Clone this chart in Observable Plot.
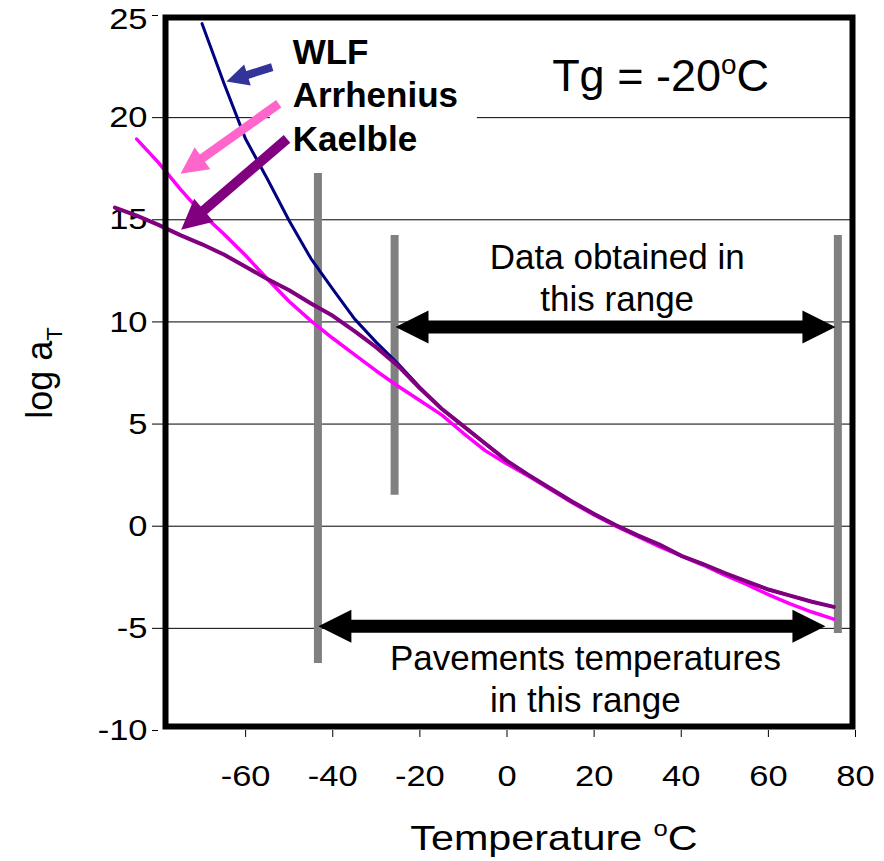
<!DOCTYPE html>
<html>
<head>
<meta charset="utf-8">
<script src="https://cdn.jsdelivr.net/npm/d3@7"></script>
<script src="https://cdn.jsdelivr.net/npm/@observablehq/plot@0.6"></script>
<style>
  html, body { margin: 0; padding: 0; background: #fff; }
  #chart svg { display: block; }
</style>
</head>
<body>
<div id="chart"></div>
<script>
// ---------- data ----------
const temperatureTicks = [-60, -40, -20, 0, 20, 40, 60, 80];
const logTicks = [-10, -5, 0, 5, 10, 15, 20, 25];

const wlfTemp = [-70,-65,-60,-55,-50,-45,-40,-35,-30,-25,-20,-15,-10,-5,0,5,10,15,20,25,30,35,40,45,50,55,60,65,70,75];
const wlfLogAT = [24.6,21.7,18.95,17.0,14.95,13.1,11.6,10.15,9.0,7.95,6.8,5.75,4.9,4.05,3.2,2.5,1.85,1.2,0.6,0.05,-0.45,-0.9,-1.45,-1.85,-2.3,-2.7,-3.1,-3.4,-3.7,-3.95];

const arrheniusTemp = [-85,-80,-75,-70,-65,-60,-55,-50,-45,-40,-35,-30,-25,-20,-15,-10,-5,0,5,10,15,20,25,30,35,40,45,50,55,60,65,70,75];
const arrheniusLogAT = [18.95,17.8,16.5,15.3,14.3,13.25,12.1,11.0,10.05,9.2,8.4,7.6,6.85,6.15,5.45,4.55,3.7,3.05,2.45,1.8,1.15,0.55,0.0,-0.5,-1.0,-1.45,-1.9,-2.4,-2.85,-3.35,-3.8,-4.2,-4.55];

const kaelbleTemp = [-90,-85,-80,-75,-70,-65,-60,-55,-50,-45,-40,-35,-30,-25,-20,-15,-10,-5,0,5,10,15,20,25,30,35,40,45,50,55,60,65,70,75];
const kaelbleLogAT = [15.6,15.2,14.75,14.25,13.8,13.3,12.7,12.1,11.55,10.9,10.3,9.55,8.75,7.85,6.75,5.75,4.9,4.05,3.2,2.5,1.85,1.2,0.6,0.05,-0.45,-0.9,-1.45,-1.85,-2.3,-2.7,-3.1,-3.4,-3.7,-3.95];

const seriesNames = ["WLF", "Arrhenius", "Kaelble"];

// annotation anchors (data coordinates)
const gridValues = [20, 15, 10, 5, 0, -5];
const legendGap = [-54.3, -6.8];
const rangeBarX = [-43.4, -25.8, 75.95];
const rangeBarTop = [17.27, 14.23, 14.23];
const rangeBarBottom = [-6.72, 1.51, -5.25];
const rangeArrowY = [9.75, -4.9];
const rangeArrowFrom = [-25.6, -43.3];
const rangeArrowTo = [75.4, 73.1];
const legendArrowTail = [[-53.9, 22.47], [-52.4, 20.68], [-50.5, 18.96]];
const legendArrowTip = [[-64.4, 21.77], [-74.95, 17.25], [-74.8, 14.51]];
const legendLabelX = -49.2;
const legendLabelY = [23.17, 21.05, 18.93];
const notes = ["Data obtained in\nthis range", "Pavements temperatures\nin this range"];
const noteX = [25.3, 18.0];
const noteY = [14.05, -5.6];
const tgLabel = "Tg = -20^oC";
const tgX = 10.36, tgY = 22.02;
const xTitle = "Temperature ^oC";
const yTitle = "log a_T";

// ---------- layout / styles ----------
const W = 884, H = 861, ML = 158, MR = 29, MT = 15, MB = 131;
const FONT = "'Liberation Sans', Arial, Helvetica, sans-serif";
const lineColors = {WLF: "#000080", Arrhenius: "#FF00FF", Kaelble: "#800080"};
const lineWidths = {WLF: 3, Arrhenius: 3.5, Kaelble: 4};
const arrowColors = ["#333399", "#FF66CC", "#800080"];
const arrowShaft = [8, 9, 10];
const arrowHeadLen = [22, 27, 30];
const TICK_STRETCH = 1.15, TITLE_STRETCH = 1.18;

const xs = d3.scaleLinear([-80, 80], [ML, W - MR]);
const ys = d3.scaleLinear([-10, 25], [H - MB, MT]);

const rows = [
  ...wlfTemp.map((t, i) => ({series: "WLF", t, v: wlfLogAT[i]})),
  ...arrheniusTemp.map((t, i) => ({series: "Arrhenius", t, v: arrheniusLogAT[i]})),
  ...kaelbleTemp.map((t, i) => ({series: "Kaelble", t, v: kaelbleLogAT[i]}))
];

const grid = [];
for (const g of gridValues) {
  if (g === 20) {
    grid.push({y: g, x1: -80, x2: legendGap[0]});
    grid.push({y: g, x1: legendGap[1], x2: 80});
  } else grid.push({y: g, x1: -80, x2: 80});
}

const arrowHead = {
  draw(ctx, size) {
    const L = Math.sqrt(size / Math.PI);
    ctx.moveTo(0, 0);
    ctx.lineTo(-L, -L / 2);
    ctx.lineTo(-L, L / 2);
    ctx.closePath();
  }
};

function arrowParts(x1, y1, x2, y2, L) {
  const px1 = xs(x1), py1 = ys(y1), px2 = xs(x2), py2 = ys(y2);
  const dx = px2 - px1, dy = py2 - py1, len = Math.hypot(dx, dy);
  const ux = dx / len, uy = dy / len;
  const ex = px2 - ux * L * 0.9, ey = py2 - uy * L * 0.9;
  return {
    shaft: {x1, y1, x2: xs.invert(ex), y2: ys.invert(ey)},
    head: {x: x2, y: y2, angle: Math.atan2(uy, ux) * 180 / Math.PI}
  };
}

const arrowMarks = [];
legendArrowTail.forEach((tail, i) => {
  const p = arrowParts(tail[0], tail[1], legendArrowTip[i][0], legendArrowTip[i][1], arrowHeadLen[i]);
  arrowMarks.push(Plot.link([p.shaft], {x1: "x1", y1: "y1", x2: "x2", y2: "y2", stroke: arrowColors[i], strokeWidth: arrowShaft[i]}));
  arrowMarks.push(Plot.dot([p.head], {x: "x", y: "y", rotate: "angle", symbol: arrowHead, r: arrowHeadLen[i], fill: arrowColors[i], stroke: "none"}));
});
rangeArrowY.forEach((y, i) => {
  const a = rangeArrowFrom[i], b = rangeArrowTo[i];
  const mid = (a + b) / 2;
  const p1 = arrowParts(mid, y, a, y, 33);
  const p2 = arrowParts(mid, y, b, y, 33);
  arrowMarks.push(Plot.link([{x1: p1.shaft.x2, x2: p2.shaft.x2, y1: y, y2: y}], {x1: "x1", y1: "y1", x2: "x2", y2: "y2", stroke: "black", strokeWidth: 13}));
  arrowMarks.push(Plot.dot([p1.head, p2.head], {x: "x", y: "y", rotate: "angle", symbol: arrowHead, r: 33, fill: "black", stroke: "none"}));
});

const bars = rangeBarX.map((x, i) => ({x, y1: rangeBarTop[i], y2: rangeBarBottom[i]}));
const legendRows = seriesNames.map((s, i) => ({s, x: legendLabelX, y: legendLabelY[i]}));
const noteRows = notes.map((s, i) => ({s, x: noteX[i], y: noteY[i]}));

const plot = Plot.plot({
  width: W, height: H,
  marginLeft: ML, marginRight: MR, marginTop: MT, marginBottom: MB,
  style: {fontFamily: FONT, fontSize: "30px", color: "black", background: "white", overflow: "visible"},
  x: {domain: [-80, 80], ticks: temperatureTicks, tickFormat: d => String(d), tickSize: 7, tickPadding: 27, label: null},
  y: {domain: [-10, 25], ticks: logTicks, tickFormat: d => String(d), tickSize: 6, tickPadding: 5, label: null},
  marks: [
    Plot.ruleY(grid, {y: "y", x1: "x1", x2: "x2", stroke: "black", strokeWidth: 1}),
    Plot.ruleX(bars, {x: "x", y1: "y1", y2: "y2", stroke: "#808080", strokeWidth: 8}),
    ...seriesNames.map(s => Plot.line(rows.filter(r => r.series === s), {x: "t", y: "v", stroke: lineColors[s], strokeWidth: lineWidths[s], strokeLinejoin: "round"})),
    Plot.frame({stroke: "black", strokeWidth: 6, insetLeft: 7, insetTop: 2, insetRight: 3, insetBottom: 4}),
    ...arrowMarks,
    Plot.text(legendRows, {x: "x", y: "y", text: "s", textAnchor: "start", fontWeight: "bold", fontSize: 35, fill: "black"}),
    Plot.text(noteRows, {x: "x", y: "y", text: "s", textAnchor: "middle", lineAnchor: "top", lineHeight: 1.2, fontSize: 35, fill: "black"}),
    Plot.text([tgLabel], {x: () => tgX, y: () => tgY, text: d => d, textAnchor: "start", fontSize: 45, fill: "black"}),
    Plot.text([xTitle], {text: d => d, frameAnchor: "bottom", textAnchor: "middle", lineAnchor: "middle", dx: 47, dy: 108, fontSize: 35, fill: "black"}),
    Plot.text([yTitle], {text: d => d, frameAnchor: "left", textAnchor: "middle", lineAnchor: "middle", rotate: -90, dx: -118, fontSize: 36, fill: "black"})
  ]
});

document.getElementById("chart").append(plot);

const SVGNS = "http://www.w3.org/2000/svg";
// superscript / subscript
plot.querySelectorAll("text").forEach(t => {
  if (t.querySelector("tspan")) return;
  const s = t.textContent;
  const m = s.match(/^(.*?)([\^_])(.)(.*)$/);
  if (!m) return;
  const fs = parseFloat(getComputedStyle(t).fontSize) || 30;
  const shift = m[2] === "^" ? -0.38 * fs : 0.28 * fs;
  t.textContent = "";
  t.appendChild(document.createTextNode(m[1]));
  const sup = document.createElementNS(SVGNS, "tspan");
  sup.setAttribute("font-size", (0.62 * fs).toFixed(1));
  sup.setAttribute("dy", shift.toFixed(1));
  sup.textContent = m[3];
  t.appendChild(sup);
  if (m[4]) {
    const rest = document.createElementNS(SVGNS, "tspan");
    rest.setAttribute("dy", (-shift).toFixed(1));
    rest.textContent = m[4];
    t.appendChild(rest);
  }
});

// horizontal stretch of axis texts about their anchor point (optional vertical nudge)
function stretch(t, sx, ty = 0) {
  const tr = t.transform.baseVal.consolidate();
  const ax = (tr ? tr.matrix.e : 0) + (t.x.baseVal.numberOfItems ? t.x.baseVal.getItem(0).value : 0);
  const g = document.createElementNS(SVGNS, "g");
  g.setAttribute("transform", `translate(${ax},${ty}) scale(${sx},1) translate(${-ax},0)`);
  t.parentNode.insertBefore(g, t);
  g.appendChild(t);
}
plot.querySelectorAll('g[aria-label="x-axis tick label"] text').forEach(t => stretch(t, TICK_STRETCH));
plot.querySelectorAll('g[aria-label="y-axis tick label"] text').forEach(t => stretch(t, TICK_STRETCH, t.textContent === "25" ? 4 : 0));
plot.querySelectorAll("text").forEach(t => { if (t.textContent.startsWith("Temperature")) stretch(t, TITLE_STRETCH); });
</script>
</body>
</html>
